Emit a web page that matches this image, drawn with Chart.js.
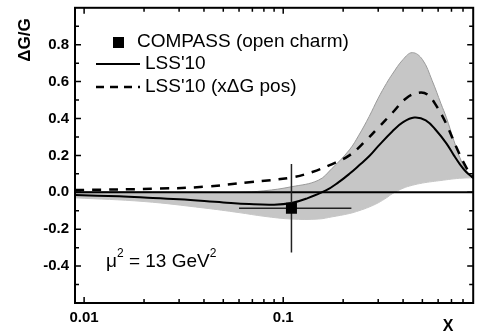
<!DOCTYPE html>
<html>
<head>
<meta charset="utf-8">
<script src="https://cdn.jsdelivr.net/npm/chart.js@4.4.1/dist/chart.umd.min.js"></script>
<style>
  html, body { margin: 0; padding: 0; background: #fff; }
  #wrap { width: 481px; height: 334px; }
</style>
</head>
<body>
<div id="wrap"><canvas id="deltaG"></canvas></div>
<script>
// LSS'10 central curve
const lssX = [0.009, 0.015, 0.02, 0.03, 0.05, 0.0675, 0.09, 0.11, 0.13, 0.164, 0.19, 0.215, 0.24, 0.27, 0.30, 0.353, 0.40, 0.455, 0.52, 0.587, 0.66, 0.72, 0.766, 0.83, 0.9];
const lssY = [-0.015, -0.022, -0.028, -0.038, -0.055, -0.064, -0.067, -0.058, -0.035, 0.01, 0.055, 0.10, 0.145, 0.195, 0.25, 0.33, 0.38, 0.405, 0.39, 0.335, 0.265, 0.2, 0.157, 0.11, 0.078];

// LSS'10 with positive x*dG
const posX = [0.009, 0.024, 0.04, 0.0675, 0.11, 0.14, 0.17, 0.215, 0.26, 0.30, 0.353, 0.415, 0.48, 0.53, 0.587, 0.66, 0.74, 0.83, 0.9];
const posY = [0.012, 0.02, 0.03, 0.055, 0.08, 0.11, 0.146, 0.20, 0.28, 0.35, 0.43, 0.51, 0.54, 0.53, 0.47, 0.37, 0.245, 0.135, 0.08];

// error band
const bandX    = [0.009, 0.02, 0.04, 0.06, 0.08, 0.11, 0.15, 0.176, 0.215, 0.24, 0.27, 0.30, 0.33, 0.353, 0.40, 0.445, 0.50, 0.56, 0.62, 0.66, 0.72, 0.77, 0.83, 0.9];
const bandHigh = [0.005, 0.003, 0.0, 0.0, 0.008, 0.03, 0.065, 0.13, 0.23, 0.31, 0.41, 0.51, 0.59, 0.64, 0.72, 0.757, 0.72, 0.605, 0.48, 0.405, 0.28, 0.19, 0.12, 0.078];
const bandLow  = [-0.03, -0.05, -0.085, -0.11, -0.13, -0.145, -0.145, -0.133, -0.115, -0.1, -0.08, -0.057, -0.03, -0.008, 0.022, 0.038, 0.05, 0.058, 0.064, 0.068, 0.073, 0.076, 0.078, 0.078];

// COMPASS open charm point
const compassX = [0.11];
const compassY = [-0.086];
const compassYErr = [0.24];
const compassXLow = [0.06];
const compassXHigh = [0.22];

// axes
const xMin = 0.009, xMax = 0.9;
const yMin = -0.6, yMax = 1.0;
const xTickValues = [0.01, 0.1];
const xTickLabels = ['0.01', '0.1'];
const yTickValues = [-0.4, -0.2, 0.0, 0.2, 0.4, 0.6, 0.8];
const xMinor = [0.02, 0.03, 0.04, 0.05, 0.06, 0.07, 0.08, 0.09, 0.2, 0.3, 0.4, 0.5, 0.6, 0.7, 0.8];
const yMinor = [-0.5, -0.3, -0.1, 0.1, 0.3, 0.5, 0.7, 0.9];

const pts = (xs, ys) => xs.map((v, i) => ({x: v, y: ys[i]}));
const FONT = '"Liberation Sans", Arial, sans-serif';

// frame, inward ticks, titles, legend and label
const decor = {
  id: 'decor',
  afterDatasetsDraw(chart) {
    const {ctx, chartArea: a, scales: {x, y}} = chart;
    ctx.save();
    ctx.strokeStyle = '#000';
    ctx.lineWidth = 2;
    ctx.strokeRect(a.left, a.top, a.right - a.left, a.bottom - a.top);

    ctx.lineWidth = 1.5;
    ctx.beginPath();
    const yt = (v, len) => {
      const p = y.getPixelForValue(v);
      ctx.moveTo(a.left, p); ctx.lineTo(a.left + len, p);
      ctx.moveTo(a.right, p); ctx.lineTo(a.right - len, p);
    };
    const xt = (v, len) => {
      const p = x.getPixelForValue(v);
      ctx.moveTo(p, a.bottom); ctx.lineTo(p, a.bottom - len);
      ctx.moveTo(p, a.top); ctx.lineTo(p, a.top + len);
    };
    yTickValues.forEach(v => yt(v, 6));
    yMinor.forEach(v => yt(v, 4));
    xTickValues.forEach(v => xt(v, 6));
    xMinor.forEach(v => xt(v, 4));
    ctx.stroke();

    // axis titles
    ctx.fillStyle = '#000';
    ctx.font = 'bold 17px ' + FONT;
    ctx.textAlign = 'center';
    ctx.textBaseline = 'middle';
    ctx.save();
    ctx.translate(25, 40);
    ctx.rotate(-Math.PI / 2);
    ctx.fillText('\u0394G/G', 0, 0);
    ctx.restore();
    ctx.font = 'bold 16px ' + FONT;
    ctx.fillText('X', 448, 327);

    // legend
    ctx.fillRect(113, 37, 11, 11);
    ctx.lineWidth = 2;
    ctx.beginPath(); ctx.moveTo(96, 64); ctx.lineTo(140, 64); ctx.stroke();
    ctx.lineWidth = 2.5;
    ctx.setLineDash([8, 6]);
    ctx.beginPath(); ctx.moveTo(96, 87); ctx.lineTo(140, 87); ctx.stroke();
    ctx.setLineDash([]);
    ctx.font = '19px ' + FONT;
    ctx.textAlign = 'left';
    ctx.fillText('COMPASS (open charm)', 137, 42);
    ctx.fillText("LSS'10", 145, 64);
    ctx.fillText("LSS'10 (x\u0394G pos)", 145, 87);

    // scale label
    ctx.textBaseline = 'alphabetic';
    let cx = 106;
    const part = (t, size, dy) => {
      ctx.font = size + 'px ' + FONT;
      ctx.fillText(t, cx, 267 + dy);
      cx += ctx.measureText(t).width;
    };
    part('\u03bc', 19, 0);
    part('2', 12, -10);
    part(' = 13 GeV', 19, 0);
    part('2', 12, -10);
    ctx.restore();
  }
};

const noPad = s => { s.paddingTop = 0; s.paddingBottom = 0; s.paddingLeft = 0; s.paddingRight = 0; };

new Chart(document.getElementById('deltaG'), {
  type: 'line',
  data: {
    datasets: [
      {
        label: 'COMPASS (open charm)',
        data: pts(compassX, compassY),
        showLine: false,
        pointStyle: 'rect',
        pointRadius: 7.8,
        backgroundColor: '#000',
        borderColor: '#000',
        borderWidth: 0
      },
      {
        label: 'yerr',
        data: [{x: compassX[0], y: compassY[0] + compassYErr[0]}, {x: compassX[0], y: compassY[0] - compassYErr[0]}],
        borderColor: '#222',
        borderWidth: 1.5,
        pointRadius: 0
      },
      {
        label: 'xerr',
        data: [{x: compassXLow[0], y: compassY[0]}, {x: compassXHigh[0], y: compassY[0]}],
        borderColor: '#222',
        borderWidth: 1.5,
        pointRadius: 0
      },
      {
        label: "LSS'10",
        data: pts(lssX, lssY),
        borderColor: '#000',
        borderWidth: 2,
        pointRadius: 0,
        tension: 0.4
      },
      {
        label: "LSS'10 (x\u0394G pos)",
        data: pts(posX, posY),
        borderColor: '#000',
        borderWidth: 2.5,
        borderDash: [9, 8],
        pointRadius: 0,
        tension: 0.4
      },
      {
        label: 'zero',
        data: [{x: xMin, y: 0}, {x: xMax, y: 0}],
        borderColor: '#000',
        borderWidth: 2,
        pointRadius: 0
      },
      {
        label: 'band high',
        data: pts(bandX, bandHigh),
        borderColor: '#9a9a9a',
        borderWidth: 1,
        backgroundColor: '#c6c6c6',
        fill: '+1',
        pointRadius: 0,
        tension: 0.4
      },
      {
        label: 'band low',
        data: pts(bandX, bandLow),
        borderColor: '#c6c6c6',
        borderWidth: 1,
        pointRadius: 0,
        tension: 0.4
      }
    ]
  },
  options: {
    responsive: true,
    maintainAspectRatio: false,
    animation: false,
    layout: { padding: { top: 7, right: 7, left: 0, bottom: 0 } },
    plugins: {
      legend: { display: false },
      tooltip: { enabled: false }
    },
    scales: {
      x: {
        type: 'logarithmic',
        min: xMin,
        max: xMax,
        afterBuildTicks: s => { s.ticks = xTickValues.map(v => ({value: v})); },
        afterFit: s => { s.height = 31; noPad(s); },
        grid: { display: false, drawTicks: false },
        border: { display: false },
        ticks: {
          color: '#000',
          font: { family: FONT, size: 15, weight: 'bold' },
          padding: 6,
          maxRotation: 0,
          callback: (v, i) => xTickLabels[i]
        }
      },
      y: {
        min: yMin,
        max: yMax,
        afterBuildTicks: s => { s.ticks = yTickValues.map(v => ({value: v})); },
        afterFit: s => { s.width = 75; noPad(s); },
        grid: { display: false, drawTicks: false },
        border: { display: false },
        ticks: {
          color: '#000',
          font: { family: FONT, size: 15, weight: 'bold' },
          padding: 6,
          callback: v => v.toFixed(1)
        }
      }
    }
  },
  plugins: [decor]
});
</script>
</body>
</html>
